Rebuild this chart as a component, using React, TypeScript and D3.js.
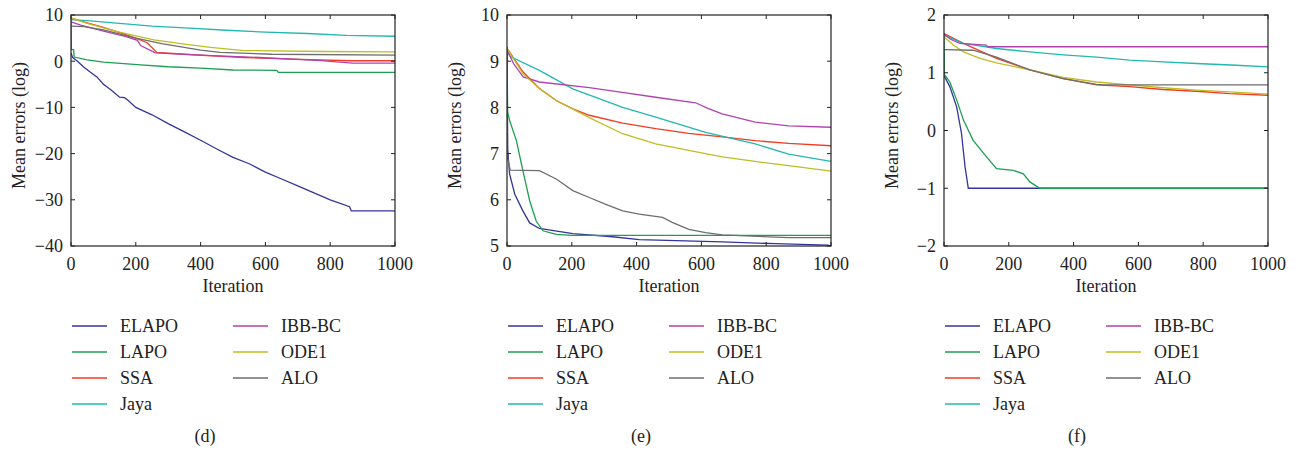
import React from "react";
import * as d3 from "d3";

type Pt = [number, number];

const SERIES = ["ELAPO", "LAPO", "SSA", "Jaya", "IBB-BC", "ODE1", "ALO"];
const COLORS = ["#34349c", "#1c9f52", "#f23c22", "#22b8b2", "#b042b0", "#bebe22", "#6e6e6e"];
const X_TICKS = [0, 200, 400, 600, 800, 1000];
const CAPTIONS = ["(d)", "(e)", "(f)"];

// Panel (d)
const D_Y_TICKS = [10, 0, -10, -20, -30, -40];
const D_ELAPO: Pt[] = [[0,1.8],[5,0.8],[20,0],[40,-1.3],[60,-2.4],[80,-3.4],[100,-5],[125,-6.3],[150,-7.8],[165,-7.9],[175,-8.4],[200,-10],[250,-11.6],[300,-13.5],[350,-15.3],[400,-17.1],[450,-19],[500,-20.8],[550,-22.2],[600,-24],[650,-25.5],[700,-27],[750,-28.5],[800,-30],[860,-31.5],[865,-32.4],[1000,-32.4]];
const D_LAPO: Pt[] = [[0,9],[1,2.5],[8,2.5],[10,0.9],[50,0.3],[100,-0.2],[215,-0.8],[300,-1.2],[400,-1.5],[500,-1.9],[635,-2.0],[640,-2.4],[1000,-2.4]];
const D_SSA: Pt[] = [[0,9.3],[50,8.3],[100,7.3],[150,6.2],[200,5.0],[235,4.0],[265,1.9],[350,1.5],[450,1.1],[534,0.8],[706,0.4],[866,0.1],[1000,0.1]];
const D_JAYA: Pt[] = [[0,9],[50,8.8],[150,8.2],[250,7.6],[350,7.2],[480,6.7],[600,6.3],[730,6.0],[850,5.6],[1000,5.4]];
const D_IBB: Pt[] = [[0,8.5],[30,7.8],[100,6.5],[170,5.3],[205,4.5],[215,3.4],[260,1.8],[400,1.3],[550,0.9],[760,0.2],[870,-0.4],[1000,-0.4]];
const D_ODE1: Pt[] = [[0,9.4],[50,8.2],[100,7.2],[150,6.3],[200,5.5],[256,4.6],[350,3.7],[431,3.0],[534,2.3],[780,2.1],[1000,2.0]];
const D_ALO: Pt[] = [[0,7.6],[40,7.5],[100,6.8],[200,5.0],[280,3.8],[400,2.4],[460,1.9],[620,1.5],[1000,1.3]];

// Panel (e)
const E_Y_TICKS = [10, 9, 8, 7, 6, 5];
const E_ELAPO: Pt[] = [[0,9.3],[2,7.1],[8,6.56],[24,6.12],[49,5.76],[70,5.5],[100,5.38],[203,5.27],[326,5.2],[408,5.14],[664,5.09],[828,5.05],[990,5.02],[1000,5.0]];
const E_LAPO: Pt[] = [[0,9.3],[2,7.9],[8,7.72],[29,7.28],[49,6.63],[70,5.98],[90,5.54],[111,5.33],[152,5.25],[200,5.23],[1000,5.23]];
const E_SSA: Pt[] = [[0,9.28],[49,8.77],[100,8.41],[152,8.15],[203,7.97],[254,7.83],[357,7.66],[459,7.54],[561,7.44],[664,7.36],[766,7.28],[869,7.22],[1000,7.17]];
const E_JAYA: Pt[] = [[0,9.2],[10,9.1],[100,8.8],[203,8.4],[357,8.0],[459,7.79],[613,7.46],[766,7.21],[869,6.99],[1000,6.83]];
const E_IBB: Pt[] = [[0,9.25],[20,8.95],[50,8.66],[100,8.55],[254,8.43],[350,8.33],[459,8.22],[582,8.1],[620,7.98],[664,7.86],[766,7.68],[869,7.6],[1000,7.57]];
const E_ODE1: Pt[] = [[0,9.28],[49,8.73],[100,8.41],[152,8.15],[254,7.78],[357,7.43],[459,7.21],[561,7.07],[664,6.93],[766,6.83],[869,6.74],[1000,6.62]];
const E_ALO: Pt[] = [[0,9.3],[2,6.9],[10,6.64],[100,6.63],[152,6.45],[203,6.2],[254,6.05],[305,5.9],[357,5.76],[408,5.69],[480,5.62],[510,5.51],[561,5.36],[613,5.29],[664,5.24],[869,5.18],[1000,5.18]];

// Panel (f)
const F_Y_TICKS = [2, 1, 0, -1, -2];
const F_ELAPO: Pt[] = [[0,0.95],[18,0.76],[39,0.41],[54,-0.05],[65,-0.63],[75,-1.0],[1000,-1.0]];
const F_LAPO: Pt[] = [[0,1.65],[1,0.97],[18,0.84],[39,0.53],[60,0.18],[90,-0.17],[132,-0.46],[162,-0.66],[214,-0.69],[245,-0.75],[265,-0.89],[296,-1.0],[1000,-1.0]];
const F_SSA: Pt[] = [[0,1.68],[60,1.51],[162,1.25],[265,1.05],[368,0.9],[471,0.79],[573,0.76],[676,0.71],[779,0.68],[882,0.64],[1000,0.61]];
const F_JAYA: Pt[] = [[0,1.65],[60,1.51],[162,1.42],[265,1.36],[368,1.31],[471,1.27],[573,1.22],[676,1.19],[779,1.16],[902,1.13],[1000,1.1]];
const F_IBB: Pt[] = [[0,1.67],[20,1.58],[49,1.51],[130,1.48],[135,1.45],[1000,1.45]];
const F_ODE1: Pt[] = [[0,1.62],[29,1.48],[60,1.36],[111,1.25],[162,1.17],[265,1.05],[368,0.92],[471,0.84],[573,0.79],[676,0.74],[779,0.7],[882,0.67],[1000,0.63]];
const F_ALO: Pt[] = [[0,1.4],[90,1.39],[162,1.27],[265,1.05],[368,0.9],[471,0.8],[490,0.79],[1000,0.79]];

const PANELS = [
  { left: 71, yDomain: [-40, 10], yTicks: D_Y_TICKS, data: [D_ELAPO, D_LAPO, D_SSA, D_JAYA, D_IBB, D_ODE1, D_ALO], caption: 205 },
  { left: 507, yDomain: [5, 10], yTicks: E_Y_TICKS, data: [E_ELAPO, E_LAPO, E_SSA, E_JAYA, E_IBB, E_ODE1, E_ALO], caption: 641 },
  { left: 944, yDomain: [-2, 2], yTicks: F_Y_TICKS, data: [F_ELAPO, F_LAPO, F_SSA, F_JAYA, F_IBB, F_ODE1, F_ALO], caption: 1077 },
];

const FONT = "'Liberation Serif', 'Times New Roman', serif";
const FS = 18;
const PW = 324;
const TOP = 15;
const BOTTOM = 246;

function Panel({ p, idx }: { p: typeof PANELS[number]; idx: number }) {
  const x = d3.scaleLinear().domain([0, 1000]).range([p.left, p.left + PW]);
  const y = d3.scaleLinear().domain(p.yDomain).range([BOTTOM, TOP]);
  const line = d3.line<Pt>().x((d) => x(d[0])).y((d) => y(d[1]));
  const clipId = `clip${idx}`;
  const tl = 4;
  return (
    <g>
      <defs>
        <clipPath id={clipId}>
          <rect x={p.left} y={TOP} width={PW} height={BOTTOM - TOP} />
        </clipPath>
      </defs>
      <g clipPath={`url(#${clipId})`}>
        {p.data.map((ser, i) => (
          <path key={i} d={line(ser) || ""} fill="none" stroke={COLORS[i]} strokeWidth={1.3} />
        ))}
      </g>
      <rect x={p.left} y={TOP} width={PW} height={BOTTOM - TOP} fill="none" stroke="#222" strokeWidth={1.2} />
      {X_TICKS.map((t) => (
        <g key={"x" + t}>
          <line x1={x(t)} x2={x(t)} y1={BOTTOM} y2={BOTTOM - tl} stroke="#222" />
          <line x1={x(t)} x2={x(t)} y1={TOP} y2={TOP + tl} stroke="#222" />
          <text x={x(t)} y={270} textAnchor="middle" fontSize={FS} fontFamily={FONT} fill="#222">{t}</text>
        </g>
      ))}
      {p.yTicks.map((t) => (
        <g key={"y" + t}>
          <line x1={p.left} x2={p.left + tl} y1={y(t)} y2={y(t)} stroke="#222" />
          <line x1={p.left + PW} x2={p.left + PW - tl} y1={y(t)} y2={y(t)} stroke="#222" />
          <text x={p.left - 8} y={y(t)} dy="0.35em" textAnchor="end" fontSize={FS} fontFamily={FONT} fill="#222">
            {t < 0 ? "\u2212" + Math.abs(t) : t}
          </text>
        </g>
      ))}
      <text x={p.left + PW / 2} y={292} textAnchor="middle" fontSize={FS} fontFamily={FONT} fill="#222">Iteration</text>
      <text transform={`translate(${p.left - 46},${(TOP + BOTTOM) / 2 - 5}) rotate(-90)`} textAnchor="middle" fontSize={FS} fontFamily={FONT} fill="#222">
        Mean errors (log)
      </text>
      {SERIES.map((name, i) => {
        const col = i < 4 ? 0 : 1;
        const row = i < 4 ? i : i - 4;
        const lx = p.left + 1 + col * 161;
        const ly = 326 + row * 26;
        return (
          <g key={name}>
            <line x1={lx} x2={lx + 35} y1={ly} y2={ly} stroke={COLORS[i]} strokeWidth={1.5} />
            <text x={lx + 48} y={ly + 6} fontSize={FS} fontFamily={FONT} fill="#222">{name}</text>
          </g>
        );
      })}
      <text x={p.caption} y={442} textAnchor="middle" fontSize={FS} fontFamily={FONT} fill="#222">{CAPTIONS[idx]}</text>
    </g>
  );
}

export default function App() {
  return (
    <svg width={1298} height={455} style={{ position: "absolute", left: 0, top: 0, background: "#fff" }}>
      <rect width={1298} height={455} fill="#fff" />
      {PANELS.map((p, i) => (
        <Panel key={i} p={p} idx={i} />
      ))}
    </svg>
  );
}
